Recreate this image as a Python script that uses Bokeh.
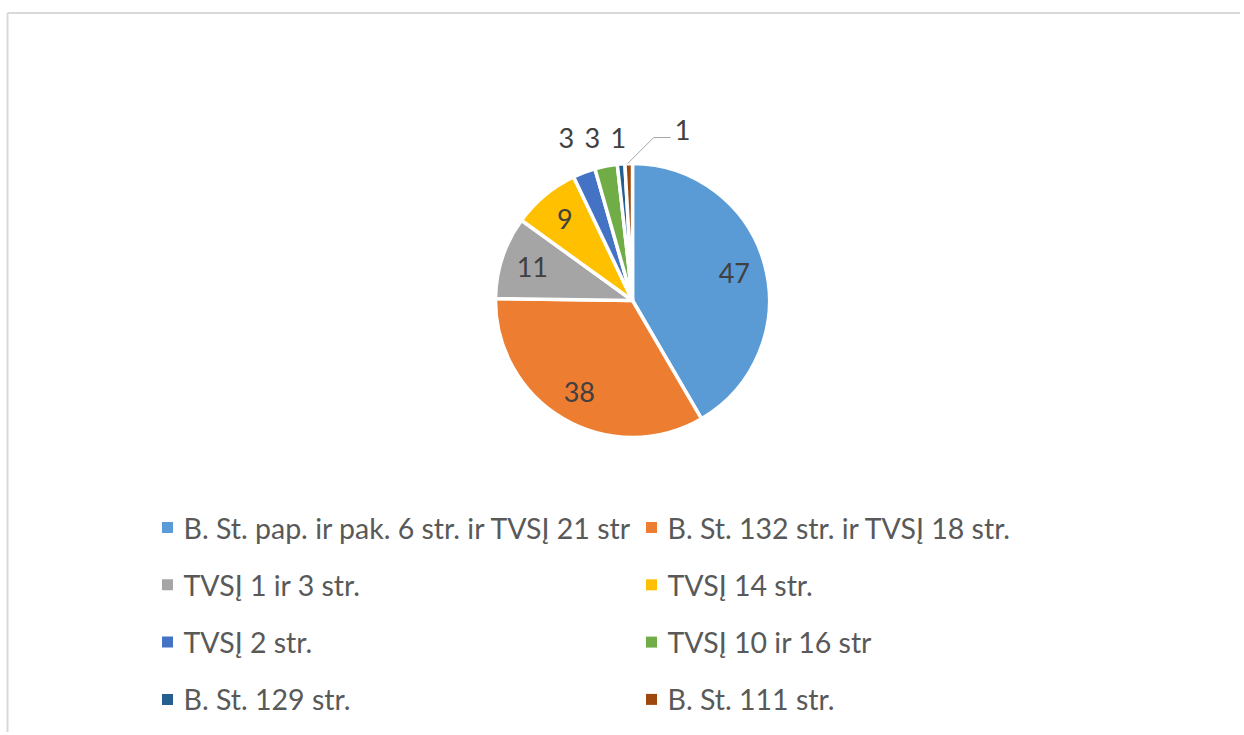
import numpy as np
from bokeh.plotting import figure
from bokeh.models import Range1d, ColumnDataSource
from bokeh.core.properties import value
from bokeh.embed import file_html
from bokeh.resources import INLINE

categories = [
    "B. St. pap. ir pak. 6 str. ir TVSĮ 21 str",
    "B. St. 132 str.  ir TVSĮ 18 str.",
    "TVSĮ 1 ir 3 str.",
    "TVSĮ 14 str.",
    "TVSĮ 2 str.",
    "TVSĮ 10 ir 16 str",
    "B. St. 129 str.",
    "B. St. 111 str.",
]
values = [47, 38, 11, 9, 3, 3, 1, 1]
colors = ["#5B9BD5", "#ED7D31", "#A5A5A5", "#FFC000",
          "#4472C4", "#70AD47", "#255E91", "#9E480E"]

W, H = 1240, 732
FONT = "Lato"

p = figure(width=W, height=H, output_backend="svg", toolbar_location=None,
           x_range=Range1d(0, W), y_range=Range1d(0, H), min_border=0)
p.axis.visible = False
p.grid.visible = False
p.outline_line_color = None
p.background_fill_color = "white"
p.border_fill_color = "white"

def Y(py):
    return H - py

# chart frame (top and left edges)
p.segment(x0=[7, 7], y0=[Y(12.5), Y(12.5)], x1=[W, 7], y1=[Y(12.5), 0],
          line_color="#D9D9D9", line_width=2)

# pie
cx, cy, R = 632, Y(300), 137
vals = np.array(values, dtype=float)
frac = vals / vals.sum()
cum_end = np.cumsum(frac)
cum_start = cum_end - frac
start = np.pi / 2 - cum_start * 2 * np.pi
end = np.pi / 2 - cum_end * 2 * np.pi
src = ColumnDataSource(dict(start=start, end=end, color=colors))
p.wedge(x=cx, y=cy, radius=R, start_angle="start", end_angle="end",
        direction="clock", fill_color="color", line_color="white",
        line_width=3.5, source=src)

# data labels
mid = (cum_start + cum_end) / 2 * 2 * np.pi  # angle from top, clockwise
n = len(values)
lx = [0.0] * n
ly = [0.0] * n
outside = []
for i in range(n):
    if frac[i] > 0.05:
        r = 0.77 * R
        lx[i] = cx + r * np.sin(mid[i]); ly[i] = cy + r * np.cos(mid[i])
    elif i < n - 1:
        r = 1.25 * R
        lx[i] = cx + r * np.sin(mid[i]); ly[i] = Y(137)
        outside.append(i)
    else:
        x0 = cx + R * np.sin(mid[i]) - 1; y0 = cy + R * np.cos(mid[i])
        ex, ey = x0 + 26, y0 + 26
        p.line(x=[x0, ex, ex + 17], y=[y0, ey, ey], line_color="#A6A6A6",
               line_width=1)
        lx[i], ly[i] = ex + 29, ey + 8
# keep outside labels from overlapping (push leftwards)
for a, b in zip(outside[::-1][1:], outside[::-1][:-1]):
    lx[a] = min(lx[a], lx[b] - 26)
p.text(x=lx, y=ly, text=[str(v) for v in values], text_align="center",
       text_baseline="middle", text_font=value(FONT), text_font_size="27px",
       text_color="#404040")

# legend (two columns, four rows)
col_x = [167, 651]
row_y0, row_dy = 527, 57.3
mx, my, tx, ty = [], [], [], []
for i, name in enumerate(categories):
    c, r = i % 2, i // 2
    yy = Y(row_y0 + r * row_dy)
    mx.append(col_x[c]); my.append(yy)
    tx.append(col_x[c] + 16); ty.append(yy)
p.rect(x=mx, y=my, width=11, height=11, fill_color=colors, line_color=None)
p.text(x=tx, y=ty, text=categories, text_align="left", text_baseline="middle",
       text_font=value(FONT), text_font_size="28.5px", text_color="#595959")

open("out.html", "w").write(file_html(p, INLINE))
